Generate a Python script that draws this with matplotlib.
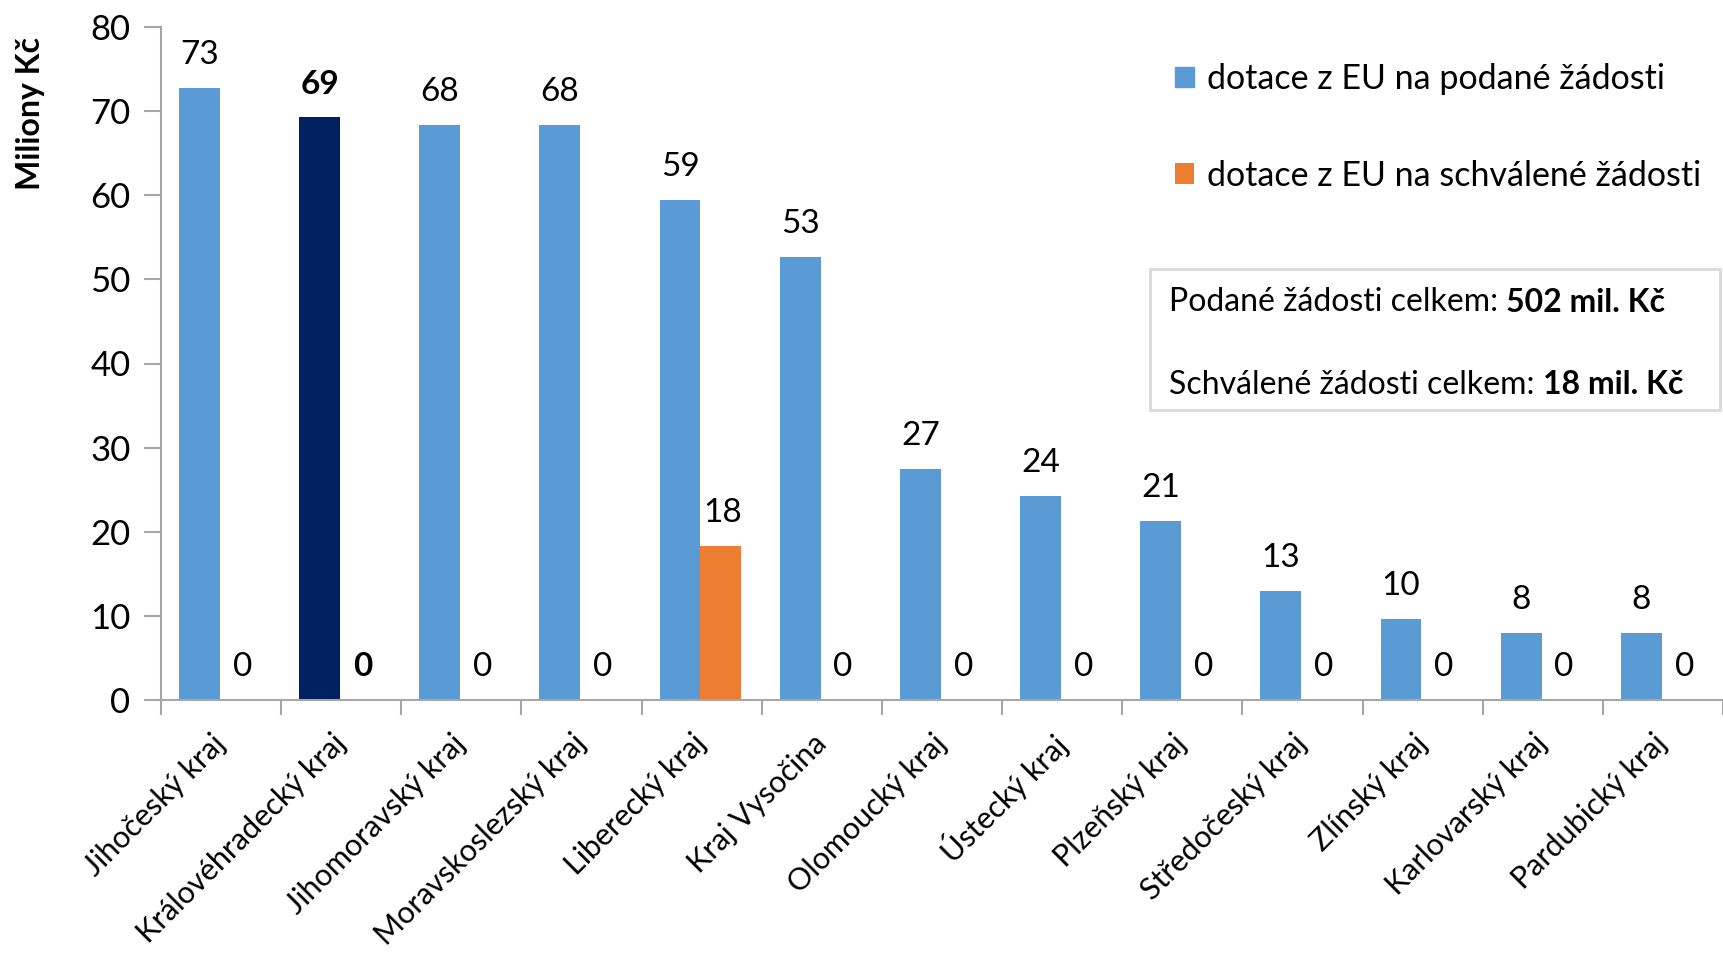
import numpy as np
import matplotlib
matplotlib.use("Agg")
from matplotlib import pyplot as plt
from matplotlib.patches import Rectangle

plt.rcParams['font.family'] = ['Lato', 'DejaVu Sans']

# data
regions = ["Jihočeský kraj", "Královéhradecký kraj", "Jihomoravský kraj",
           "Moravskoslezský kraj", "Liberecký kraj", "Kraj Vysočina",
           "Olomoucký kraj", "Ústecký kraj", "Plzeňský kraj",
           "Středočeský kraj", "Zlínský kraj", "Karlovarský kraj",
           "Pardubický kraj"]
podane = [72.7, 69.3, 68.4, 68.3, 59.4, 52.7, 27.4, 24.3, 21.3, 13.0, 9.6, 8.0, 8.0]
schvalene = [0, 0, 0, 0, 18.3, 0, 0, 0, 0, 0, 0, 0, 0]
highlight = "Královéhradecký kraj"
summary = [("Podané žádosti celkem: ", "502 mil. Kč"),
           ("Schválené žádosti celkem: ", "18 mil. Kč")]

blue = "#5B9BD5"
orange = "#ED7D31"
navy = "#002060"
grey = "#A6A6A6"

W, H = 1723, 956
fig = plt.figure(figsize=(W / 100, H / 100), dpi=100)
ax = fig.add_axes([161 / W, 1 - 700 / H, 1 - 161 / W, (700 - 27) / H])

x = np.arange(len(regions))
bw = 0.34
cols = [navy if r == highlight else blue for r in regions]
b1 = ax.bar(x - 0.18, podane, bw, color=cols)
b2 = ax.bar(x + 0.16, schvalene, bw, color=orange)

# data labels
for i in range(len(regions)):
    bold = 'bold' if regions[i] == highlight else 'normal'
    ax.annotate("%d" % round(podane[i]), (x[i] - 0.18, podane[i]), xytext=(0, 33),
                textcoords='offset pixels', ha='center', va='center', fontsize=24, fontweight=bold)
    ax.annotate("%d" % round(schvalene[i]), (x[i] + 0.16, schvalene[i]), xytext=(2, 33),
                textcoords='offset pixels', ha='center', va='center', fontsize=24, fontweight=bold)

ax.set_ylim(0, 80)
ax.set_yticks(range(0, 81, 10))
ax.set_xlim(-0.5, 12.5 - 13 / 121)

# x ticks at boundaries, labels at centres
ax.set_xticks(np.arange(-0.5, 13, 1))
ax.set_xticklabels([])
ax.set_xticks(x, minor=True)
ax.set_xticklabels(regions, minor=True, rotation=45, ha='right', va='center',
                   rotation_mode='anchor', fontsize=22)
ax.tick_params(axis='x', which='minor', length=0, pad=28)
ax.tick_params(axis='x', which='major', length=11, color=grey, width=1.5)
ax.tick_params(axis='y', length=12, color=grey, width=1.5, labelsize=25, pad=10)

for s in ['top', 'right']:
    ax.spines[s].set_visible(False)
for s in ['left', 'bottom']:
    ax.spines[s].set_color(grey)
    ax.spines[s].set_linewidth(1.5)

fig.text(31 / W, 1 - 113 / H, "Miliony Kč", rotation=90, ha='center', va='center',
         fontsize=23, fontweight='bold')

leg = ax.legend(handles=[b1[0], b2[0]],
                labels=["dotace z EU na podané žádosti", "dotace z EU na schválené žádosti"],
                loc='upper left', bbox_to_anchor=(1158 / W, 1 - 46 / H), bbox_transform=fig.transFigure,
                frameon=False, fontsize=24.5, labelspacing=1.9, handlelength=0.55, handleheight=0.55,
                handletextpad=0.4, borderpad=0)
leg.legend_handles[0].set_color(blue)

# summary box
fig.patches.append(Rectangle((1150 / W, 1 - 410 / H), (1720 - 1150) / W, (410 - 269) / H,
                             transform=fig.transFigure, facecolor='white',
                             edgecolor='#D9D9D9', linewidth=2, zorder=5))
fig.canvas.draw()
r = fig.canvas.get_renderer()
for (plain, strong), yy in zip(summary, [302, 385]):
    t = fig.text(1169 / W, 1 - yy / H, plain, fontsize=23, va='center', zorder=6)
    bb = t.get_window_extent(r)
    fig.text(bb.x1 / W, 1 - yy / H, strong, fontsize=23, fontweight='bold', va='center', zorder=6)

fig.savefig("out.png", dpi=100)
